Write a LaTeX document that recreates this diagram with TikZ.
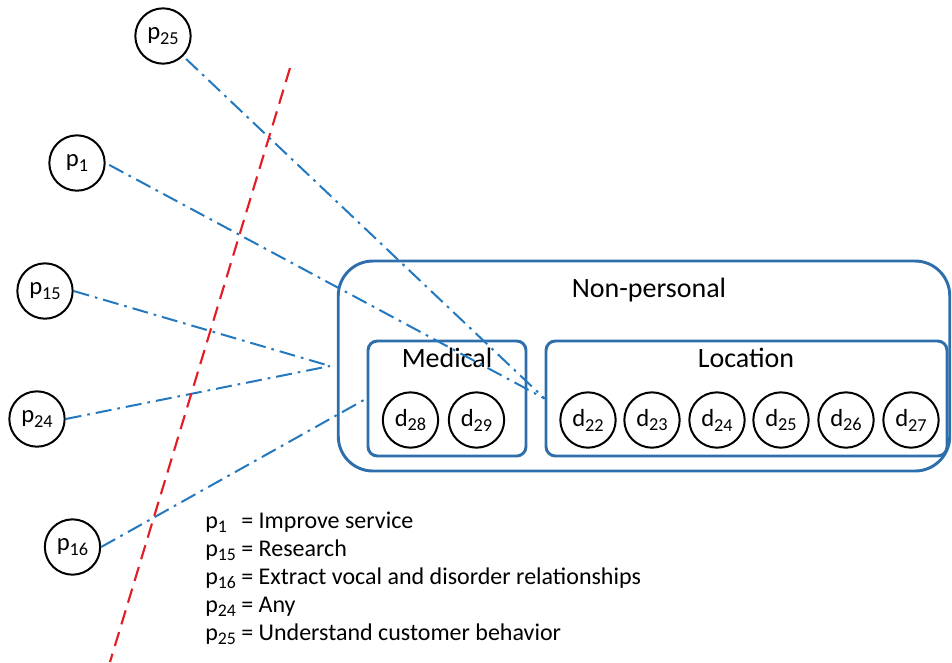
\documentclass[tikz,border=0pt]{standalone}
\usepackage{fontspec}
\setmainfont{Carlito}
\definecolor{boxblue}{RGB}{46,110,170}
\definecolor{lineblue}{RGB}{36,120,190}
\definecolor{cutred}{RGB}{226,30,36}
\newcommand{\mysub}[1]{\raisebox{-0.2em}{\scalebox{0.74}{#1}}}
\tikzset{
  pnode/.style={draw=black, line width=1.5pt, circle, inner sep=0pt, minimum size=41.5pt, font=\fontsize{18.5}{20}\selectfont},
  dnode/.style={draw=black, line width=1.5pt, circle, inner sep=0pt, minimum size=41.5pt, font=\fontsize{18.5}{20}\selectfont},
  groupbox/.style={draw=boxblue, line width=2.2pt, rounded corners=7pt, inner sep=0pt},
  outerbox/.style={draw=boxblue, line width=2.2pt, rounded corners=26pt, inner sep=0pt},
  title/.style={font=\fontsize{21}{24}\selectfont, anchor=base, inner sep=0pt},
  legend/.style={font=\fontsize{18}{20}\selectfont, anchor=base west, inner sep=0pt},
  flow/.style={draw=lineblue, line width=1.5pt, dash pattern=on 12pt off 4.5pt on 2pt off 4.5pt},
  cut/.style={draw=cutred, line width=1.6pt, dash pattern=on 11pt off 6pt}
}
\begin{document}
\begin{tikzpicture}[x=0.75pt, y=-0.75pt]
\useasboundingbox (0,0) rectangle (952,662);

% boxes
\node[outerbox, minimum width=458.6pt, minimum height=157.5pt] (np) at (644,366) {};
\node[groupbox, minimum width=118.5pt, minimum height=86.25pt] (med) at (447,398.5) {};
\node[groupbox, minimum width=300.75pt, minimum height=86.25pt] (loc) at (746.5,398.5) {};
\node[title] (nptitle) at (649,297) {Non-personal};
\node[title] (medtitle) at (447,367) {Medical};
\node[title] (loctitle) at (746,367) {Location};

% data nodes
\node[dnode] (d28) at (410.5,420) {d\mysub{28}};
\node[dnode] (d29) at (476.5,420) {d\mysub{29}};
\node[dnode] (d22) at (588,420) {d\mysub{22}};
\node[dnode] (d23) at (652,420) {d\mysub{23}};
\node[dnode] (d24) at (717,420) {d\mysub{24}};
\node[dnode] (d25) at (781,420) {d\mysub{25}};
\node[dnode] (d26) at (846,420) {d\mysub{26}};
\node[dnode] (d27) at (911,420) {d\mysub{27}};

% purpose nodes
\node[pnode] (p25) at (163,36) {p\mysub{25}};
\node[pnode] (p1) at (77,163) {p\mysub{1}};
\node[pnode] (p15) at (45,291) {p\mysub{15}};
\node[pnode] (p24) at (37,419) {p\mysub{24}};
\node[pnode] (p16) at (72.5,547) {p\mysub{16}};

% convergence point and cut line ends
\coordinate (apex) at (330,366);
\coordinate (r1) at (290,68);
\coordinate (r2) at (110,662);

% flows
\draw[flow, shorten <=3pt] (p25.south east) -- (loc.west);
\draw[flow, shorten <=3pt] (p1.east) -- (loc.west);
\draw[flow] (p15.east) -- (apex);
\draw[flow] (p24.east) -- (apex);
\draw[flow] (p16.east) -- (med.west);

% cut line
\draw[cut] (r1) -- (r2);

% legend
\node[legend] (l1) at (205,528) {p\mysub{1}\hphantom{\mysub{5}} = Improve service};
\node[legend] (l2) at (205,556) {p\mysub{15} = Research};
\node[legend] (l3) at (205,584) {p\mysub{16} = Extract vocal and disorder relationships};
\node[legend] (l4) at (205,612) {p\mysub{24} = Any};
\node[legend] (l5) at (205,640) {p\mysub{25} = Understand customer behavior};
\end{tikzpicture}
\end{document}
